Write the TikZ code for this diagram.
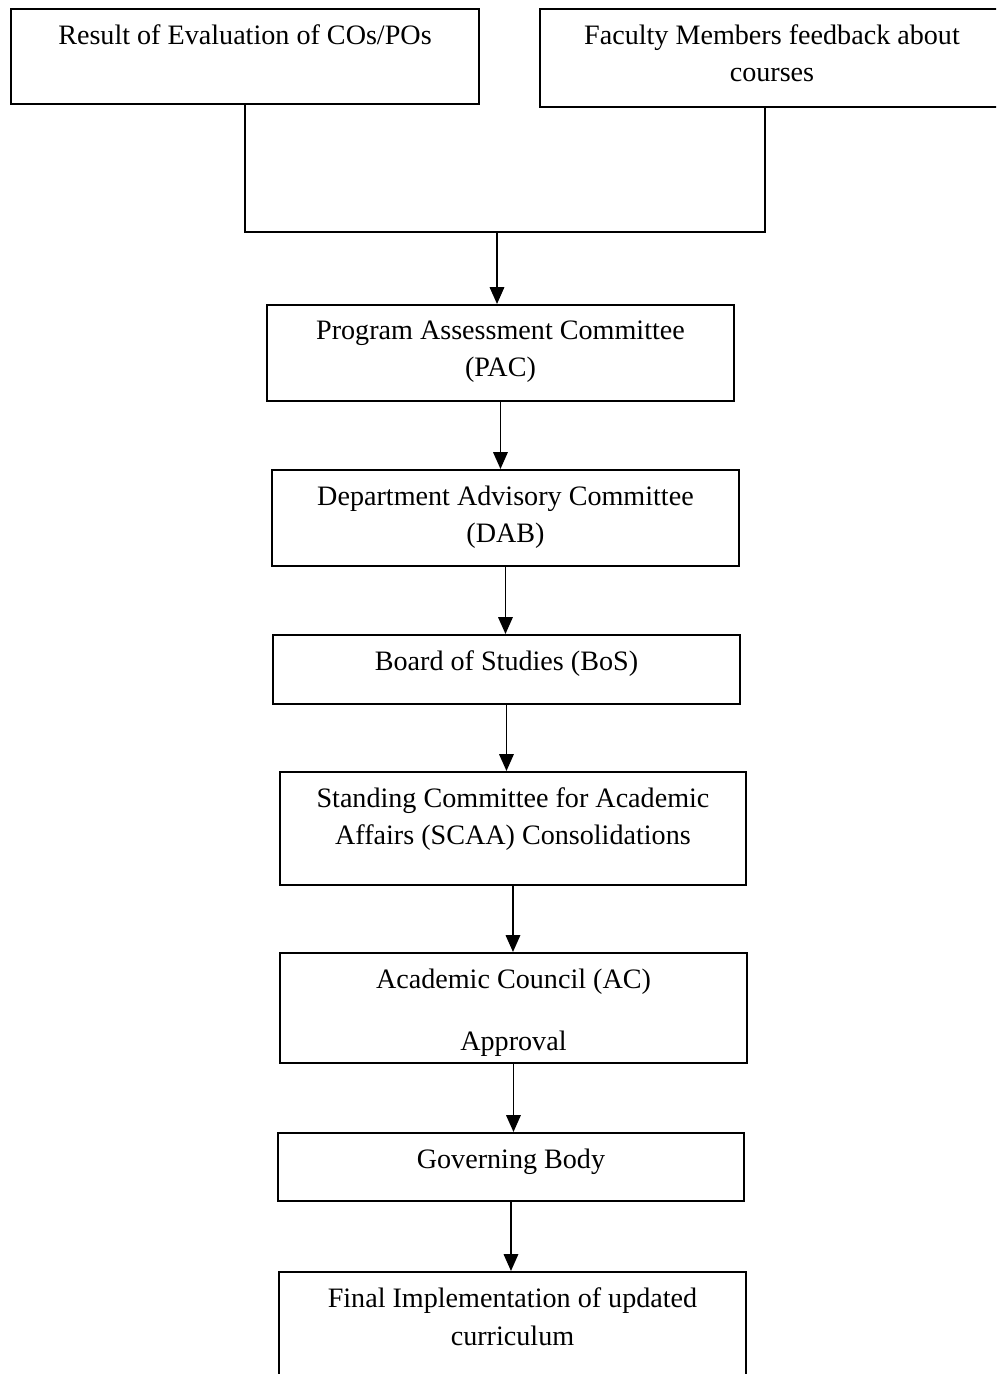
\documentclass[tikz,border=0pt]{standalone}
\usepackage{fontspec}
\setmainfont{Liberation Serif}
\usetikzlibrary{arrows.meta}

\begin{document}
\begin{tikzpicture}[x=0.025cm, y=-0.025cm]
                \clip (0,0) rectangle (996,1374);
                \fill[white] (0,0) rectangle (996,1374);
                \tikzset{lbl/.style={anchor=north, yshift=-0.4cm, inner sep=0, align=center,
                                font=\fontsize{20}{26.5}\selectfont}}
                \begin{scope}[every node/.style={draw, line width=1.3pt, rectangle, inner sep=0, anchor=north west}]
                        \node[minimum width=11.7cm, minimum height=2.375cm, label={[lbl]north:Result of Evaluation of COs/POs}] (Res) at (10,8) {};
                        \node[minimum width=11.6cm, minimum height=2.45cm, label={[lbl]north:Faculty Members feedback about\\courses}] (Fac) at (539,8) {};
                        \node[minimum width=11.675cm, minimum height=2.4cm, label={[lbl]north:Program Assessment Committee\\(PAC)}] (PAC) at (266,304) {};
                        \node[minimum width=11.675cm, minimum height=2.4cm, label={[lbl]north:Department Advisory Committee\\(DAB)}] (DAB) at (271,469) {};
                        \node[minimum width=11.675cm, minimum height=1.725cm, label={[lbl]north:Board of Studies (BoS)}] (BoS) at (272,634) {};
                        \node[minimum width=11.65cm, minimum height=2.825cm, label={[lbl]north:Standing Committee for Academic\\Affairs (SCAA) Consolidations}] (SCAA) at (279,771) {};
                        \node[minimum width=11.675cm, minimum height=2.75cm, label={[lbl]north:Academic Council (AC)\\[0.62cm]Approval}] (AC) at (279,952) {};
                        \node[minimum width=11.65cm, minimum height=1.7cm, label={[lbl]north:Governing Body}] (Gov) at (277,1132) {};
                        \node[minimum width=11.675cm, minimum height=3cm, label={[lbl]north:Final Implementation of updated\\curriculum}] (Fin) at (278,1271) {};
                \end{scope}
                \coordinate (join) at (497,232);
                \begin{scope}[every path/.style={line width=1.3pt, >={Triangle[length=0.42cm, width=0.36cm]}}]
                        \draw (Res.south) |- (join) -| ([xshift=-0.18cm]Fac.south);
                        \draw[->] (join) -- (join |- PAC.north);
                        \draw[->] (PAC.south) -- (PAC.south |- DAB.north);
                        \draw[->] (DAB.south) -- (DAB.south |- BoS.north);
                        \draw[->] (BoS.south) -- (BoS.south |- SCAA.north);
                        \draw[->] (SCAA.south) -- (SCAA.south |- AC.north);
                        \draw[->] (AC.south) -- (AC.south |- Gov.north);
                        \draw[->] (Gov.south) -- (Gov.south |- Fin.north);
                \end{scope}
        \end{tikzpicture}
\end{document}
